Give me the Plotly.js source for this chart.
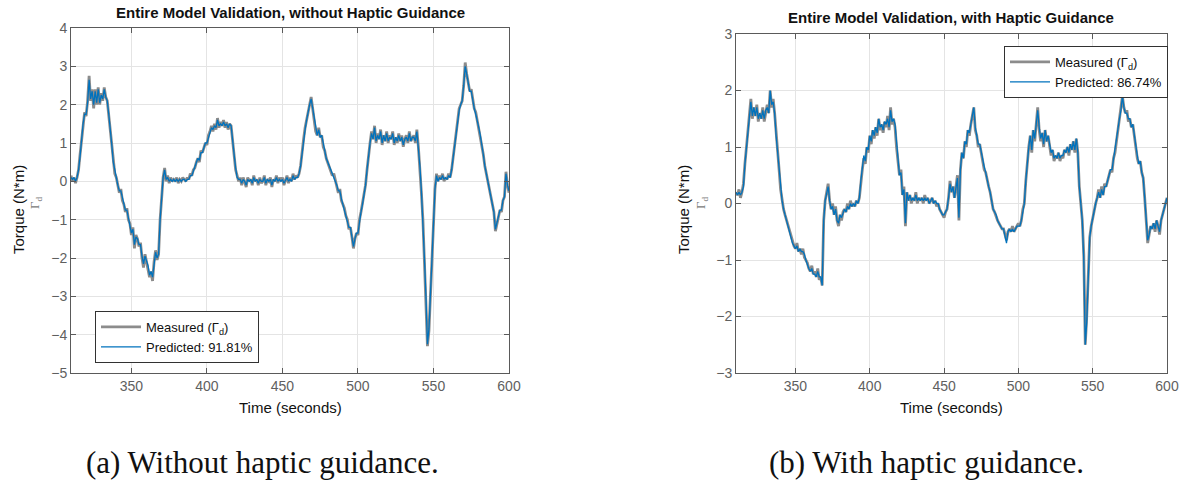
<!DOCTYPE html>
<html>
<head>
<meta charset="utf-8">
<script src="https://cdn.plot.ly/plotly-3.0.1.min.js"></script>
<style>html,body{margin:0;padding:0;background:#fff;}#chart{width:1186px;height:480px;}</style>
</head>
<body>
<div id="chart"></div>
<script>
// Time base (seconds): first sample and sample step
const timeStart = 310;
const timeStep = 1;

// (a) Without haptic guidance — measured torque Γd
const measuredA = [
 0.15,0.0,0.1,-0.05,0.1,0.3,0.7,1.1,1.5,1.8,
 1.7,2.1,2.75,2.1,2.4,1.9,2.4,2.0,2.45,2.0,
 2.3,2.1,2.45,2.2,2.1,1.7,1.4,0.9,0.5,0.2,
 0.1,-0.1,-0.3,-0.2,-0.5,-0.6,-0.8,-0.7,-1.0,-1.1,
 -1.4,-1.2,-1.75,-1.4,-1.5,-1.7,-1.6,-2.0,-2.25,-1.9,
 -2.1,-2.2,-2.5,-2.35,-2.6,-2.1,-1.8,-2.05,-1.9,-1.0,
 -0.4,0.1,0.35,0.0,0.15,-0.05,0.1,0.0,0.05,0.0,
 0.1,-0.05,0.05,0.0,0.1,0.05,0.0,0.1,0.05,0.2,
 0.15,0.3,0.35,0.5,0.6,0.5,0.8,0.75,0.9,1.0,
 0.95,1.2,1.3,1.45,1.3,1.5,1.35,1.65,1.4,1.55,
 1.45,1.6,1.4,1.55,1.35,1.5,1.45,1.1,0.7,0.3,
 0.15,0.0,0.1,-0.1,0.1,0.0,-0.15,0.1,0.0,0.05,
 -0.1,0.15,0.0,0.05,-0.1,0.1,-0.05,0.0,0.15,-0.1,
 0.05,0.0,0.1,-0.15,0.05,0.0,0.15,-0.05,0.1,0.0,
 0.1,-0.1,0.05,0.15,-0.05,0.1,0.0,0.2,0.05,0.15,
 0.1,0.2,0.4,0.8,1.1,1.4,1.6,1.9,2.0,2.2,
 1.9,1.6,1.3,1.2,1.4,1.15,1.2,0.9,0.8,0.6,
 0.5,0.4,0.3,0.15,0.2,0.0,-0.1,-0.3,-0.2,-0.5,
 -0.6,-0.7,-0.9,-1.0,-1.25,-1.2,-1.45,-1.75,-1.5,-1.35,
 -1.4,-1.0,-0.8,-0.6,-0.4,-0.1,0.3,0.7,1.0,1.3,
 1.1,1.45,1.0,1.25,1.1,1.35,0.95,1.2,1.05,1.3,
 1.0,1.2,1.1,1.3,0.95,1.15,1.0,1.25,1.05,1.2,
 0.9,1.1,1.2,1.0,1.3,1.05,1.15,1.2,1.0,1.35,
 0.9,0.4,-0.3,-1.0,-2.0,-3.0,-4.3,-3.9,-3.0,-1.7,
 -1.0,-0.2,0.2,0.0,0.15,0.05,0.2,0.0,0.1,0.05,
 0.2,0.1,0.3,0.6,1.0,1.3,1.6,1.9,2.0,2.1,
 2.5,3.1,2.8,2.55,2.35,2.4,2.1,1.9,1.8,1.6,
 1.4,1.2,1.0,0.7,0.4,0.2,0.0,-0.3,-0.45,-0.6,
 -0.8,-1.3,-1.1,-0.9,-0.75,-0.8,-0.5,-0.4,0.25,-0.1,
 -0.3
];
// (a) predicted
const predictedA = [
 0.1,0.05,0.1,0.0,0.1,0.3,0.65,1.1,1.5,1.75,
 1.75,2.05,2.65,2.15,2.35,2.0,2.35,2.05,2.4,2.05,
 2.25,2.15,2.4,2.2,2.1,1.75,1.4,0.95,0.5,0.25,
 0.1,-0.1,-0.25,-0.25,-0.45,-0.6,-0.75,-0.75,-0.95,-1.1,
 -1.35,-1.25,-1.65,-1.45,-1.5,-1.65,-1.65,-1.95,-2.15,-1.95,
 -2.05,-2.2,-2.45,-2.35,-2.5,-2.1,-1.85,-2.0,-1.9,-1.0,
 -0.35,0.1,0.3,0.05,0.1,0.0,0.05,0.0,0.05,0.0,
 0.05,0.0,0.05,0.0,0.05,0.05,0.0,0.05,0.05,0.15,
 0.15,0.25,0.35,0.45,0.6,0.55,0.75,0.75,0.9,1.0,
 1.0,1.15,1.3,1.4,1.35,1.45,1.4,1.6,1.45,1.5,
 1.45,1.55,1.45,1.5,1.4,1.5,1.45,1.15,0.7,0.35,
 0.1,0.05,0.05,-0.05,0.05,0.0,-0.1,0.05,0.0,0.05,
 -0.05,0.1,0.0,0.05,-0.05,0.05,0.0,0.0,0.1,-0.05,
 0.05,0.0,0.05,-0.1,0.05,0.0,0.1,0.0,0.05,0.0,
 0.05,-0.05,0.05,0.1,0.0,0.05,0.0,0.15,0.05,0.1,
 0.1,0.2,0.4,0.75,1.1,1.35,1.6,1.85,2.0,2.15,
 1.9,1.6,1.35,1.2,1.35,1.15,1.2,0.95,0.8,0.6,
 0.5,0.4,0.3,0.2,0.15,0.0,-0.1,-0.25,-0.25,-0.45,
 -0.6,-0.7,-0.85,-1.0,-1.2,-1.2,-1.4,-1.7,-1.5,-1.35,
 -1.35,-1.0,-0.8,-0.6,-0.4,-0.1,0.3,0.7,1.0,1.25,
 1.1,1.4,1.05,1.2,1.1,1.3,1.0,1.2,1.05,1.25,
 1.05,1.15,1.1,1.25,1.0,1.15,1.05,1.2,1.05,1.15,
 0.95,1.1,1.15,1.05,1.25,1.05,1.15,1.15,1.05,1.3,
 0.9,0.4,-0.25,-1.0,-2.0,-3.0,-4.25,-3.85,-2.95,-1.7,
 -0.95,-0.2,0.15,0.0,0.1,0.05,0.15,0.05,0.1,0.05,
 0.15,0.1,0.3,0.6,0.95,1.3,1.6,1.85,2.0,2.1,
 2.5,3.0,2.8,2.5,2.35,2.35,2.1,1.9,1.75,1.6,
 1.4,1.2,1.0,0.7,0.4,0.2,0.0,-0.25,-0.45,-0.6,
 -0.8,-1.25,-1.1,-0.9,-0.75,-0.75,-0.5,-0.4,0.2,-0.1,
 -0.25
];
// (b) With haptic guidance — measured
const measuredB = [
 0.2,0.15,0.25,0.1,0.2,0.35,0.7,1.0,1.3,1.6,
 1.85,1.5,1.7,1.55,1.75,1.45,1.6,1.5,1.7,1.45,
 1.65,1.75,1.6,2.0,1.7,1.85,1.6,1.2,0.9,0.6,
 0.25,0.05,-0.1,-0.2,-0.3,-0.4,-0.45,-0.6,-0.7,-0.75,
 -0.8,-0.7,-0.85,-0.8,-0.9,-0.8,-0.95,-1.0,-1.05,-1.15,
 -1.2,-1.1,-1.25,-1.2,-1.3,-1.15,-1.35,-1.3,-1.45,-0.3,
 0.05,0.2,0.35,0.05,-0.1,0.0,-0.2,-0.05,-0.3,-0.4,
 -0.2,-0.3,-0.15,-0.1,-0.15,0.0,-0.1,0.05,-0.05,0.0,
 -0.05,0.05,0.0,0.1,0.4,0.6,0.8,0.7,1.0,0.9,
 1.2,1.05,1.3,1.15,1.35,1.2,1.5,1.3,1.4,1.25,
 1.45,1.35,1.55,1.3,1.7,1.4,1.5,1.35,1.0,0.8,
 0.5,0.6,0.15,0.3,-0.4,0.2,0.05,0.15,0.0,0.1,
 0.05,0.2,0.0,0.1,0.05,0.1,0.0,0.15,0.05,0.1,
 0.0,0.05,0.1,0.0,0.05,-0.05,0.0,-0.1,-0.15,-0.2,
 -0.25,-0.15,-0.1,0.1,0.4,0.2,0.3,0.1,0.3,0.5,
 -0.3,0.6,0.9,0.8,1.1,1.0,1.3,1.2,1.4,1.55,
 1.7,1.3,1.2,1.0,1.05,0.9,0.75,0.6,0.55,0.4,
 0.3,0.2,0.05,-0.1,-0.15,-0.25,-0.3,-0.35,-0.4,-0.45,
 -0.45,-0.55,-0.65,-0.5,-0.45,-0.5,-0.4,-0.5,-0.45,-0.4,
 -0.35,-0.4,-0.3,-0.1,0.0,0.4,0.8,1.0,1.2,0.9,
 1.3,1.1,1.4,1.7,1.3,1.1,1.25,1.0,1.3,1.1,
 1.2,1.0,0.85,0.95,0.75,0.85,0.8,0.9,0.75,0.85,
 0.8,0.95,0.9,1.0,0.85,1.05,0.95,1.1,0.9,1.15,
 0.9,0.3,0.0,-0.3,-0.9,-2.5,-2.0,-1.4,-0.6,-0.4,
 -0.25,-0.1,0.0,0.1,0.25,0.1,0.3,0.15,0.35,0.3,
 0.4,0.45,0.6,0.55,0.8,0.9,1.1,1.3,1.5,1.6,
 1.9,1.7,1.6,1.65,1.45,1.5,1.35,1.4,1.2,1.0,
 0.8,0.7,0.75,0.55,0.45,0.1,-0.3,-0.7,-0.55,-0.4,
 -0.45,-0.35,-0.5,-0.3,-0.4,-0.55,-0.3,-0.2,-0.1,0.0,
 0.1
];
// (b) predicted
const predictedB = [
 0.2,0.15,0.2,0.15,0.2,0.3,0.7,1.0,1.3,1.6,
 1.8,1.55,1.7,1.55,1.7,1.5,1.6,1.5,1.65,1.5,
 1.65,1.7,1.6,2.0,1.75,1.8,1.6,1.2,0.9,0.6,
 0.25,0.05,-0.1,-0.2,-0.3,-0.4,-0.45,-0.6,-0.7,-0.75,
 -0.8,-0.75,-0.85,-0.8,-0.85,-0.85,-0.9,-1.0,-1.1,-1.15,
 -1.2,-1.15,-1.25,-1.25,-1.3,-1.2,-1.3,-1.3,-1.45,-0.3,
 0.05,0.15,0.3,0.05,-0.1,-0.05,-0.2,-0.1,-0.3,-0.35,
 -0.2,-0.25,-0.15,-0.1,-0.15,-0.05,-0.1,0.0,-0.05,0.0,
 -0.05,0.05,0.0,0.1,0.4,0.6,0.85,0.75,1.0,0.95,
 1.2,1.1,1.3,1.2,1.35,1.25,1.5,1.35,1.4,1.3,
 1.45,1.4,1.5,1.35,1.65,1.45,1.5,1.4,1.05,0.8,
 0.5,0.55,0.15,0.25,-0.35,0.2,0.05,0.15,0.05,0.1,
 0.05,0.15,0.05,0.1,0.05,0.1,0.05,0.1,0.05,0.1,
 0.0,0.05,0.1,0.0,0.05,0.0,0.0,-0.1,-0.15,-0.2,
 -0.2,-0.15,-0.1,0.1,0.35,0.2,0.3,0.1,0.3,0.45,
 -0.25,0.6,0.9,0.8,1.1,1.05,1.3,1.25,1.4,1.6,
 1.7,1.35,1.2,1.05,1.05,0.9,0.8,0.65,0.55,0.4,
 0.3,0.2,0.05,-0.1,-0.15,-0.2,-0.3,-0.35,-0.4,-0.45,
 -0.45,-0.55,-0.7,-0.5,-0.45,-0.5,-0.45,-0.5,-0.45,-0.4,
 -0.4,-0.4,-0.3,-0.1,0.0,0.4,0.8,1.0,1.2,0.95,
 1.3,1.15,1.4,1.65,1.35,1.15,1.25,1.05,1.3,1.1,
 1.2,1.0,0.9,0.95,0.8,0.85,0.8,0.9,0.8,0.85,
 0.85,0.95,0.9,1.0,0.9,1.05,0.95,1.1,0.95,1.15,
 0.9,0.3,0.0,-0.3,-1.0,-2.5,-2.1,-1.4,-0.6,-0.4,
 -0.25,-0.1,0.0,0.1,0.2,0.1,0.25,0.15,0.3,0.3,
 0.4,0.45,0.6,0.6,0.8,0.95,1.1,1.35,1.5,1.65,
 1.9,1.7,1.6,1.6,1.5,1.5,1.35,1.4,1.2,1.0,
 0.85,0.7,0.75,0.55,0.45,0.1,-0.3,-0.65,-0.55,-0.4,
 -0.45,-0.35,-0.45,-0.3,-0.4,-0.5,-0.3,-0.2,-0.1,0.0,
 0.1
];

// Text
const titleA = "Entire Model Validation, without Haptic Guidance";
const titleB = "Entire Model Validation, with Haptic Guidance";
const measuredName = "Measured (Γ<sub>d</sub>)";
const predictedNameA = "Predicted: 91.81%";
const predictedNameB = "Predicted: 86.74%";
const xLabel = "Time (seconds)";
const yLabel = "Torque (N*m)";
const yLabel2 = "Γ<sub>d</sub>";
const captionA = "(a) Without haptic guidance.";
const captionB = "(b) With haptic guidance.";
const xRange = [310, 600];
const yRangeA = [-5, 4];
const yRangeB = [-3, 3];

const W = 1186, H = 480;
const px = v => v / W;
const py = v => 1 - v / H;

const gray = 'rgb(140,140,140)';
const blue = 'rgb(0,114,189)';
const sans = 'Liberation Sans, Arial, sans-serif';
const tickCol = 'rgb(95,95,95)';

const traces = [
  {x0: timeStart, dx: timeStep, y: measuredA, type: 'scatter', mode: 'lines', name: measuredName,
   line: {color: gray, width: 2.8}, xaxis: 'x', yaxis: 'y', legend: 'legend'},
  {x0: timeStart, dx: timeStep, y: predictedA, type: 'scatter', mode: 'lines', name: predictedNameA,
   line: {color: blue, width: 1.3}, xaxis: 'x', yaxis: 'y', legend: 'legend'},
  {x0: timeStart, dx: timeStep, y: measuredB, type: 'scatter', mode: 'lines', name: measuredName,
   line: {color: gray, width: 2.8}, xaxis: 'x2', yaxis: 'y2', legend: 'legend2'},
  {x0: timeStart, dx: timeStep, y: predictedB, type: 'scatter', mode: 'lines', name: predictedNameB,
   line: {color: blue, width: 1.3}, xaxis: 'x2', yaxis: 'y2', legend: 'legend2'}
];

function axisStyle(extra) {
  return Object.assign({
    showline: true, mirror: 'ticks', linecolor: 'rgb(90,90,90)', linewidth: 1,
    ticks: 'inside', ticklen: 5, tickcolor: 'rgb(90,90,90)',
    showgrid: true, gridcolor: 'rgb(228,228,228)', gridwidth: 1,
    zeroline: false, tickfont: {family: sans, size: 14, color: tickCol},
    fixedrange: true
  }, extra);
}

const legendStyle = {
  bgcolor: 'white', bordercolor: 'rgb(50,50,50)', borderwidth: 1,
  font: {family: sans, size: 13, color: '#111'},
  xanchor: 'left', yanchor: 'top', tracegroupgap: 0, itemwidth: 40
};

const ann = [];
function addText(text, x, y, opts) {
  ann.push(Object.assign({text: text, x: px(x), y: py(y), xref: 'paper', yref: 'paper',
    showarrow: false, xanchor: 'center', yanchor: 'middle'}, opts));
}
addText('<b>' + titleA + '</b>', 290, 12, {font: {family: sans, size: 15, color: '#111'}});
addText('<b>' + titleB + '</b>', 951, 18, {font: {family: sans, size: 15, color: '#111'}});
addText(xLabel, 290, 407, {font: {family: sans, size: 15, color: '#111'}});
addText(xLabel, 951, 407, {font: {family: sans, size: 15, color: '#111'}});
addText(yLabel, 18, 210, {textangle: -90, font: {family: sans, size: 15, color: '#111'}});
addText(yLabel, 683, 210, {textangle: -90, font: {family: sans, size: 15, color: '#111'}});
addText(yLabel2, 36, 203, {textangle: -90, font: {family: 'Liberation Serif, serif', size: 13, color: 'rgb(120,120,120)'}});
addText(yLabel2, 702, 203, {textangle: -90, font: {family: 'Liberation Serif, serif', size: 13, color: 'rgb(120,120,120)'}});
addText(captionA, 262, 462, {font: {family: 'Liberation Serif, DejaVu Serif, serif', size: 31, color: '#111'}});
addText(captionB, 926, 462, {font: {family: 'Liberation Serif, DejaVu Serif, serif', size: 31, color: '#111'}});

const layout = {
  width: W, height: H, margin: {l: 0, r: 0, t: 0, b: 0},
  paper_bgcolor: 'white', plot_bgcolor: 'white', showlegend: true,
  xaxis: axisStyle({domain: [px(71), px(509)], range: xRange, anchor: 'y', tick0: 0, dtick: 50}),
  yaxis: axisStyle({domain: [py(373), py(28)], range: yRangeA, anchor: 'x', dtick: 1}),
  xaxis2: axisStyle({domain: [px(736), px(1167)], range: xRange, anchor: 'y2', tick0: 0, dtick: 50}),
  yaxis2: axisStyle({domain: [py(373), py(34)], range: yRangeB, anchor: 'x2', dtick: 1}),
  legend: Object.assign({}, legendStyle, {x: px(95), y: py(311)}),
  legend2: Object.assign({}, legendStyle, {x: px(1004), y: py(46)}),
  annotations: ann
};

Plotly.newPlot('chart', traces, layout, {staticPlot: true, displayModeBar: false});
</script>
</body>
</html>
